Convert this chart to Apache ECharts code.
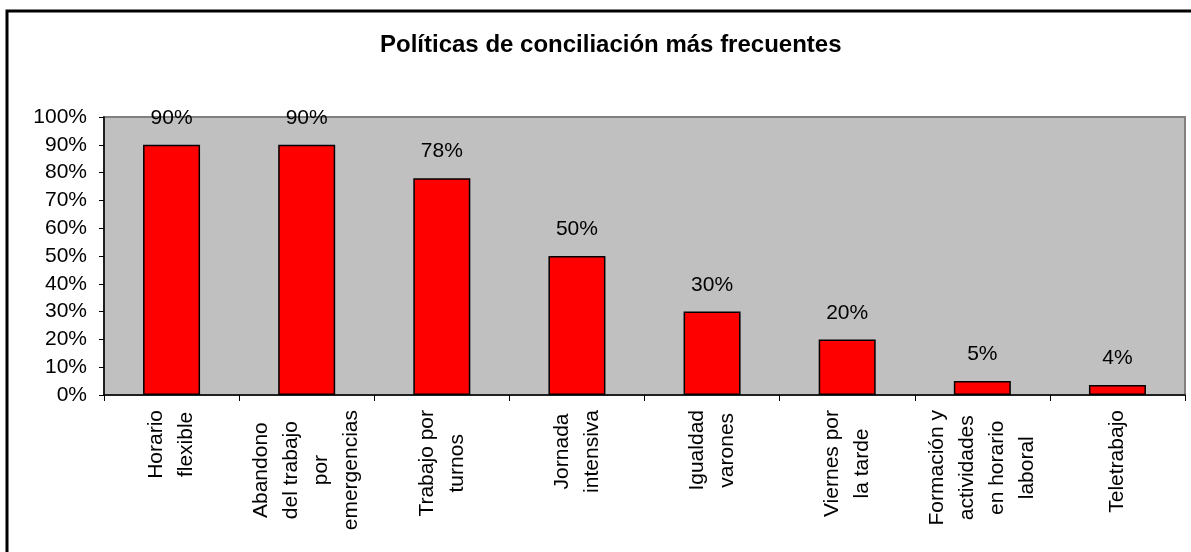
<!DOCTYPE html>
<html>
<head>
<meta charset="utf-8">
<script src="https://cdn.jsdelivr.net/npm/echarts@6/dist/echarts.min.js"></script>
<style>
  html, body { margin: 0; padding: 0; background: #fff; }
  #chart { width: 1191px; height: 552px; }
</style>
</head>
<body>
<div id="chart"></div>
<script>
// datos
var categorias = [
  "Horario\nflexible",
  "Abandono\ndel trabajo\npor\nemergencias",
  "Trabajo por\nturnos",
  "Jornada\nintensiva",
  "Igualdad\nvarones",
  "Viernes por\nla tarde",
  "Formación y\nactividades\nen horario\nlaboral",
  "Teletrabajo"
];
var porcentajes = [90, 90, 78, 50, 30, 20, 5, 3.6];
var titulo = "Políticas de conciliación más frecuentes";

var fuente = "Arial, 'Liberation Sans', sans-serif";

var chart = echarts.init(document.getElementById("chart"));
chart.setOption({
  animation: false,
  textStyle: { fontFamily: fuente, color: "#000" },
  title: {
    text: titulo,
    left: 375,
    top: 28,
    textStyle: { fontFamily: fuente, fontSize: 24, fontWeight: "bold", color: "#000" }
  },
  graphic: [{
    type: "rect",
    silent: true,
    shape: { x: 7, y: 11, width: 1250, height: 650 },
    style: { fill: "none", stroke: "#000", lineWidth: 3 }
  }],
  grid: {
    left: 104,
    right: 6,
    top: 117,
    bottom: 157,
    show: true,
    backgroundColor: "#c0c0c0",
    borderColor: "#808080",
    borderWidth: 2
  },
  xAxis: {
    type: "category",
    data: categorias,
    axisLine: { lineStyle: { color: "#000", width: 1.5 } },
    axisTick: { show: true, length: 6, lineStyle: { color: "#000" } },
    axisLabel: {
      interval: 0,
      rotate: 90,
      margin: 15,
      color: "#000",
      formatter: function (v) {
        return v.split("\n").map(function (s) { return "{c|" + s + "}"; }).join("\n");
      },
      rich: {
        c: { align: "center", fontSize: 21, lineHeight: 30, fontFamily: fuente, color: "#000" }
      }
    }
  },
  yAxis: {
    type: "value",
    min: 0,
    max: 100,
    interval: 10,
    axisLine: { show: true, lineStyle: { color: "#000", width: 1.5 } },
    axisTick: { show: true, length: 5, lineStyle: { color: "#000" } },
    splitLine: { show: false },
    axisLabel: {
      formatter: "{value}%",
      margin: 17,
      fontSize: 21,
      fontFamily: fuente,
      color: "#000"
    }
  },
  series: [{
    type: "bar",
    data: porcentajes,
    barWidth: 57,
    itemStyle: { color: "#ff0000", borderColor: "#000", borderWidth: 1.5 },
    label: {
      show: true,
      position: "top",
      distance: 16,
      fontSize: 21,
      fontFamily: fuente,
      color: "#000",
      formatter: function (p) { return Math.round(p.value) + "%"; }
    }
  }]
});
</script>
</body>
</html>
